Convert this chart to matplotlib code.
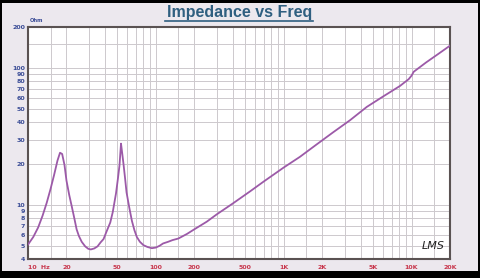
import numpy as np
import matplotlib
matplotlib.use('Agg')
from matplotlib import pyplot as plt
from matplotlib.patches import Rectangle
from matplotlib.lines import Line2D

# impedance curve (Hz, Ohm)
freq = [10, 11, 12, 13, 14, 15, 16, 17, 17.8, 18.5, 19.3, 20, 21, 22, 23, 24, 25,
        26.3, 28, 29.6, 31, 33, 35, 37, 39, 41, 44, 46, 48.8, 50.5, 52, 52.7, 53.4,
        54.2, 55.8, 57.5, 59, 62, 65, 68, 71, 75, 80, 86, 93, 100, 107, 114, 125,
        135, 150, 175, 200, 250, 300, 400, 545, 700, 1000, 1340, 1800, 2450, 3300,
        4470, 6000, 8120, 9500, 10000, 10400, 13000, 16000, 20000]
imp = [5.1, 5.8, 6.8, 8.3, 10.3, 13.0, 16.5, 21.0, 24.0, 23.5, 19.5, 15.0, 11.8, 9.7,
       8.0, 6.6, 5.9, 5.35, 4.95, 4.75, 4.7, 4.78, 4.95, 5.3, 5.6, 6.3, 7.4, 8.8, 12.1,
       15.5, 19.5, 23.5, 28.0, 25.0, 20.0, 15.5, 12.3, 9.5, 7.6, 6.5, 5.8, 5.35, 5.05,
       4.9, 4.8, 4.85, 5.0, 5.2, 5.35, 5.5, 5.65, 6.1, 6.6, 7.5, 8.5, 10.2, 12.5, 14.8,
       18.7, 22.4, 27.5, 34, 41.5, 52, 62, 74, 83, 88, 94, 110, 126, 146]

xticks = [10, 20, 50, 100, 200, 500, 1000, 2000, 5000, 10000, 20000]
xlabels = ['10  Hz', '20', '50', '100', '200', '500', '1K', '2K', '5K', '10K', '20K']
yticks = [4, 5, 6, 7, 8, 9, 10, 20, 30, 40, 50, 60, 70, 80, 90, 100, 200]
ylabels = [str(v) for v in yticks]

fig = plt.figure(figsize=(4.8, 2.78), dpi=100)
fig.patch.set_facecolor('black')
fig.add_artist(Rectangle((2 / 480, 7 / 278), 476 / 480, 268 / 278,
                         transform=fig.transFigure, facecolor='#ece8ee',
                         edgecolor='none', zorder=0))

ax = fig.add_axes([28 / 480, 1 - 259 / 278, 422 / 480, 232 / 278])
ax.set_facecolor('white')
ax.set_xscale('log')
ax.set_yscale('log')
ax.set_xlim(10, 20000)
ax.set_ylim(4, 200)

# grid
vgrid = []
for d in [10, 100, 1000, 10000]:
    for m in [1, 1.5, 2, 3, 4, 5, 6, 7, 8, 9]:
        if d * m <= 20000:
            vgrid.append(d * m)
for v in vgrid:
    ax.axvline(v, color='#cdc9cd', lw=0.7, zorder=1)
hgrid = [5, 6, 7, 8, 9, 10, 20, 30, 40, 50, 60, 70, 80, 90, 100, 150]
for h in hgrid:
    ax.axhline(h, color='#cdc9cd', lw=0.7, zorder=1)

ax.plot(freq, imp, color='#9c5aa8', lw=1.3, zorder=3)

ax.set_xticks(xticks)
ax.set_xticklabels(xlabels)
ax.set_yticks(yticks)
ax.set_yticklabels(ylabels)
ax.xaxis.set_minor_locator(matplotlib.ticker.NullLocator())
ax.yaxis.set_minor_locator(matplotlib.ticker.NullLocator())
ax.tick_params(axis='x', length=0, pad=4, labelsize=4.5, labelcolor='#c8364c')
ax.tick_params(axis='y', length=0, pad=2, labelsize=4.5, labelcolor='#3a4c96')
for lab in ax.get_xticklabels() + ax.get_yticklabels():
    lab.set_fontweight('bold')
ax.get_xticklabels()[0].set_horizontalalignment('left')

for s in ax.spines.values():
    s.set_color('#5a5252')
    s.set_linewidth(1.5)

fig.text(30 / 480, 1 - 20 / 278, 'Ohm', fontsize=3.8, color='#3a4c96',
         fontweight='bold', ha='left', va='center')
fig.text(433 / 480, 1 - 246 / 278, 'LMS', fontsize=8, style='italic',
         color='#202020', ha='center', va='center')

fig.text(0.5, 1 - 12 / 278, 'Impedance vs Freq', fontsize=11.5, fontweight='bold',
         family='Liberation Sans', color='#2f5f80', ha='center', va='center')
fig.add_artist(Line2D([165 / 480, 313 / 480], [1 - 21 / 278, 1 - 21 / 278],
                      transform=fig.transFigure, color='#2f5f80', lw=1.2))

fig.savefig('out.png', dpi=100, facecolor=fig.get_facecolor())
